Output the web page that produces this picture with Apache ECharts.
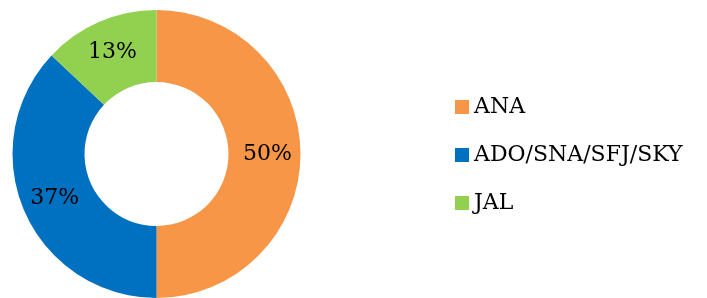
<!DOCTYPE html>
<html lang="en">
<head>
    <meta charset="UTF-8" />
    <title>Airline share</title>
    <script src="https://cdn.jsdelivr.net/npm/echarts@6/dist/echarts.min.js"></script>
    <style>
        html, body { margin: 0; padding: 0; background: #fff; }
    </style>
</head>
<body>
<div id="main" style="width: 707px;height:298px;"></div>
<script type="text/javascript">
    var categories = ['ANA', 'ADO/SNA/SFJ/SKY', 'JAL'];
    var shares = [50, 37, 13];
    var colors = ['#F79646', '#0070C0', '#92D050'];

    var font = 'DejaVu Serif';
    var myChart = echarts.init(document.getElementById('main'));
    var option = {
        animation: false,
        color: colors,
        legend: {
            orient: 'vertical',
            left: 450,
            top: 91,
            itemWidth: 14,
            itemHeight: 14,
            itemGap: 26,
            icon: 'rect',
            textStyle: { fontFamily: font, fontSize: 22, color: '#000' },
            data: categories
        },
        series: [
            {
                type: 'pie',
                center: [156.5, 154],
                radius: [72, 144],
                startAngle: 90,
                clockwise: true,
                label: {
                    position: 'inside',
                    formatter: '{d}%',
                    fontFamily: font,
                    fontSize: 22,
                    color: '#000'
                },
                labelLine: { show: false },
                data: categories.map(function (c, i) {
                    return { name: c, value: shares[i] };
                })
            }
        ]
    };
    myChart.setOption(option);
</script>
</body>
</html>
